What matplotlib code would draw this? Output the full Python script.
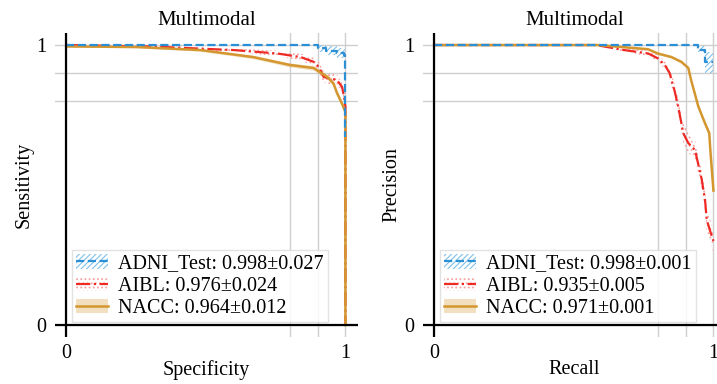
import matplotlib.pyplot as plt
from matplotlib.lines import Line2D
from matplotlib.patches import Patch

plt.rcParams['font.family'] = ['Liberation Serif', 'DejaVu Serif']
plt.rcParams['font.size'] = 14.5
plt.rcParams['hatch.linewidth'] = 0.8

# ROC curves (specificity, sensitivity)
roc_adni_x = [0.0, 0.90, 0.90, 0.93, 0.93, 0.97, 0.97, 0.995, 0.995, 1.0, 1.0]
roc_adni_y = [1.0, 1.0, 0.99, 0.99, 0.98, 0.98, 0.97, 0.97, 0.965, 0.965, 0.67]
roc_adni_lo = [1.0, 1.0, 0.975, 0.975, 0.965, 0.965, 0.955, 0.955, 0.95, 0.95, 0.67]
roc_adni_hi = [1.0, 1.0, 1.0, 1.0, 0.995, 0.995, 0.99, 0.99, 0.985, 0.985, 0.67]

roc_aibl_x = [0.0, 0.30, 0.60, 0.755, 0.84, 0.886, 0.905, 0.922, 0.946, 0.97, 0.988, 0.995, 1.0, 1.0]
roc_aibl_y = [1.0, 0.995, 0.982, 0.97, 0.957, 0.94, 0.922, 0.886, 0.88, 0.875, 0.85, 0.815, 0.78, 0.0]
roc_aibl_err = [0.0, 0.003, 0.006, 0.01, 0.012, 0.015, 0.018, 0.02, 0.02, 0.018, 0.015, 0.012, 0.01, 0.0]

roc_nacc_x = [0.0, 0.25, 0.48, 0.67, 0.80, 0.886, 0.935, 0.957, 0.97, 0.988, 0.997, 1.0, 1.0]
roc_nacc_y = [0.995, 0.993, 0.982, 0.957, 0.929, 0.918, 0.886, 0.863, 0.828, 0.79, 0.768, 0.76, 0.0]
roc_nacc_err = [0.002, 0.003, 0.004, 0.006, 0.007, 0.008, 0.008, 0.009, 0.009, 0.009, 0.008, 0.008, 0.0]

# PR curves (recall, precision)
pr_adni_x = [0.0, 0.946, 0.946, 0.97, 0.97, 1.0]
pr_adni_y = [1.0, 1.0, 0.982, 0.982, 0.94, 0.94]
pr_adni_lo = [1.0, 1.0, 0.975, 0.975, 0.90, 0.90]
pr_adni_hi = [1.0, 1.0, 0.995, 0.995, 0.975, 0.975]

pr_aibl_x = [0.0, 0.58, 0.68, 0.766, 0.80, 0.825, 0.843, 0.86, 0.874, 0.892, 0.91, 0.934, 0.958, 0.97, 0.976, 0.99, 1.0]
pr_aibl_y = [1.0, 1.0, 0.982, 0.97, 0.953, 0.93, 0.90, 0.84, 0.78, 0.685, 0.65, 0.625, 0.52, 0.446, 0.375, 0.33, 0.30]
pr_aibl_err = [0.0, 0.0, 0.006, 0.01, 0.012, 0.015, 0.02, 0.025, 0.03, 0.035, 0.035, 0.035, 0.035, 0.04, 0.04, 0.04, 0.04]

pr_nacc_x = [0.0, 0.586, 0.766, 0.80, 0.85, 0.885, 0.91, 0.92, 0.946, 0.97, 0.985, 0.99, 1.0]
pr_nacc_y = [1.0, 1.0, 0.985, 0.97, 0.957, 0.94, 0.918, 0.875, 0.78, 0.72, 0.685, 0.61, 0.48]
pr_nacc_err = [0.0, 0.0, 0.003, 0.004, 0.004, 0.005, 0.005, 0.006, 0.006, 0.007, 0.008, 0.008, 0.008]

roc_labels = ['ADNI_Test: 0.998±0.027', 'AIBL: 0.976±0.024', 'NACC: 0.964±0.012']
pr_labels = ['ADNI_Test: 0.998±0.001', 'AIBL: 0.935±0.005', 'NACC: 0.971±0.001']

BLUE = '#2b8fd6'
RED = '#ee2a24'
ORANGE = '#d4962e'


def band(y, err, sign):
    return [v + sign * e for v, e in zip(y, err)]


def draw_panel(ax, curves, labels, xlabel, ylabel):
    (ax_x, ax_y, ax_lo, ax_hi), (ai_x, ai_y, ai_err), (na_x, na_y, na_err) = curves

    ax.fill_between(na_x, band(na_y, na_err, -1), band(na_y, na_err, 1),
                    color=ORANGE, alpha=0.3, lw=0)
    ax.fill_between(ai_x, band(ai_y, ai_err, -1), band(ai_y, ai_err, 1),
                    facecolor='none', edgecolor='#f7a0a0', hatch='....', lw=0)
    ax.fill_between(ax_x, ax_lo, ax_hi, facecolor='none',
                    edgecolor='#7fc0ea', hatch='//////', lw=0)

    ax.plot(ai_x, ai_y, color=RED, lw=1.6, ls='-.')
    ax.plot(na_x, na_y, color=ORANGE, lw=1.8)
    ax.plot(ax_x, ax_y, color=BLUE, lw=1.6, ls='--')

    ax.axhline(0, color='black', lw=1.6, zorder=5)
    ax.axvline(0, color='black', lw=1.6, zorder=5)

    ax.set_xlim(-0.04, 1.045)
    ax.set_ylim(-0.043, 1.043)
    ax.set_xticks([0, 0.8, 0.9, 1], labels=['0', '', '', '1'])
    ax.set_yticks([0, 0.8, 0.9, 1], labels=['0', '', '', '1'])
    ax.tick_params(length=0, pad=6)
    ax.tick_params(axis='x', pad=5)
    ax.grid(True, color='#cfcfcf', lw=1)
    ax.set_axisbelow(True)
    for s in ax.spines.values():
        s.set_visible(False)

    ax.set_title('Multimodal', fontsize=15, pad=6)
    ax.set_xlabel(xlabel, labelpad=-2)
    ax.set_ylabel(ylabel, labelpad=2)

    handles = [
        (Patch(facecolor='none', edgecolor='#7fc0ea', hatch='//////', lw=0),
         Line2D([], [], color=BLUE, ls='--', lw=1.6)),
        (Patch(facecolor='none', edgecolor='#f7a0a0', hatch='....', lw=0),
         Line2D([], [], color=RED, ls='-.', lw=1.6)),
        (Patch(facecolor=ORANGE, alpha=0.3, lw=0),
         Line2D([], [], color=ORANGE, lw=1.8)),
    ]
    leg = ax.legend(handles, labels, loc='lower left', bbox_to_anchor=(0.055, 0.05),
                    borderaxespad=0, handlelength=1.6, handletextpad=0.5,
                    labelspacing=0.15, borderpad=0.2, fancybox=False,
                    framealpha=0.85, edgecolor='#dddddd')
    leg.set_zorder(10)


fig = plt.figure(figsize=(7.17, 3.84), dpi=100)
ax1 = fig.add_axes([55 / 717, 47 / 384, 303 / 717, 304 / 384])
ax2 = fig.add_axes([423 / 717, 47 / 384, 303 / 717, 304 / 384])

draw_panel(ax1,
           [(roc_adni_x, roc_adni_y, roc_adni_lo, roc_adni_hi),
            (roc_aibl_x, roc_aibl_y, roc_aibl_err),
            (roc_nacc_x, roc_nacc_y, roc_nacc_err)],
           roc_labels, 'Specificity', 'Sensitivity')
draw_panel(ax2,
           [(pr_adni_x, pr_adni_y, pr_adni_lo, pr_adni_hi),
            (pr_aibl_x, pr_aibl_y, pr_aibl_err),
            (pr_nacc_x, pr_nacc_y, pr_nacc_err)],
           pr_labels, 'Recall', 'Precision')

fig.savefig('out.png', dpi=100)
